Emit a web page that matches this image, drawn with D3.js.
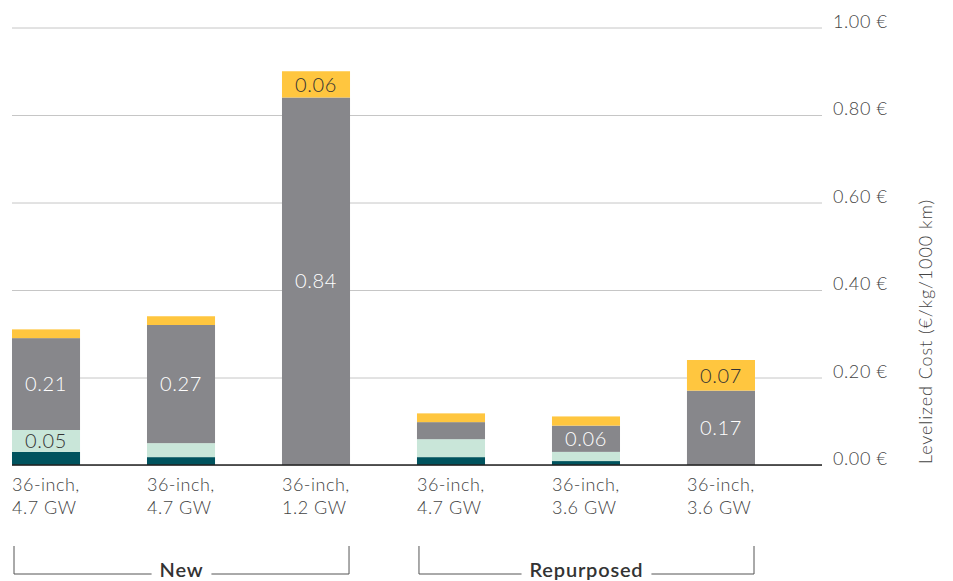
<!DOCTYPE html>
<html>
<head>
<meta charset="utf-8">
<script src="https://cdn.jsdelivr.net/npm/d3@7"></script>
<style>
  html, body { margin: 0; padding: 0; background: #fff; }
  svg { display: block; font-family: Lato, "Open Sans", sans-serif; }
</style>
</head>
<body>
<svg id="chart" width="953" height="581"></svg>
<script>
// ---- data ----
const categories = ["36-inch,|4.7 GW", "36-inch,|4.7 GW", "36-inch,|1.2 GW", "36-inch,|4.7 GW", "36-inch,|3.6 GW", "36-inch,|3.6 GW"];
const seriesNames = ["s1", "s2", "s3", "s4"];
const s1Values = [0.030, 0.018, 0.000, 0.018, 0.009, 0.000];
const s2Values = [0.050, 0.032, 0.000, 0.041, 0.021, 0.000];
const s3Values = [0.210, 0.270, 0.840, 0.039, 0.060, 0.170];
const s4Values = [0.020, 0.020, 0.060, 0.020, 0.021, 0.070];
const s1Labels = [null, null, null, null, null, null];
const s2Labels = ["0.05", null, null, null, null, null];
const s3Labels = ["0.21", "0.27", "0.84", null, "0.06", "0.17"];
const s4Labels = [null, null, "0.06", null, null, "0.07"];
const yTicks = [0, 0.2, 0.4, 0.6, 0.8, 1.0];
const groups = [
  { name: "New", first: 0, last: 2 },
  { name: "Repurposed", first: 3, last: 5 }
];
const yTitle = "Levelized Cost (€/kg/1000 km)";

const colors = { s1: "#00535e", s2: "#c9e6d9", s3: "#87878b", s4: "#ffc63f" };
const labelColors = { s1: "#fff", s2: "#333", s3: "#fff", s4: "#333" };

// ---- build ----
const valuesBy = { s1: s1Values, s2: s2Values, s3: s3Values, s4: s4Values };
const labelsBy = { s1: s1Labels, s2: s2Labels, s3: s3Labels, s4: s4Labels };
const table = categories.map((c, i) => {
  const row = { idx: i, cat: c };
  seriesNames.forEach(s => row[s] = valuesBy[s][i]);
  return row;
});
const stacked = d3.stack().keys(seriesNames)(table);

const svg = d3.select("#chart");
const x = d3.scaleBand().domain(d3.range(categories.length)).range([12, 755]).paddingInner(0.496).paddingOuter(0);
const y = d3.scaleLinear().domain([0, 1]).range([465, 27.5]);

// grid + axis
const axis = d3.axisRight(y).tickValues(yTicks)
  .tickSize(-(822 - 12)).tickPadding(11)
  .tickFormat(d => d3.format(".2f")(d) + " €");
const ag = svg.append("g").attr("transform", "translate(822,0)").call(axis);
ag.select(".domain").remove();
ag.selectAll(".tick line").attr("stroke", "#c6c6c6").attr("stroke-width", 1);
ag.selectAll(".tick text").attr("fill", "#444").attr("dy", "-0.02em")
  .style("font-size", "18px").style("font-weight", 300)
  .style("letter-spacing", "0.6px")
  .style("font-family", "Lato, sans-serif");

// bars
const layers = svg.append("g").selectAll("g").data(stacked).join("g")
  .attr("fill", d => colors[d.key]);
layers.selectAll("rect").data(d => d.map(v => ({ key: d.key, v })))
  .join("rect")
  .attr("x", d => x(d.v.data.idx))
  .attr("width", x.bandwidth())
  .attr("y", d => y(d.v[1]))
  .attr("height", d => Math.max(0, y(d.v[0]) - y(d.v[1])));

// labels
const labelG = svg.append("g");
stacked.forEach(layer => {
  layer.forEach((v, i) => {
    const lab = labelsBy[layer.key][i];
    if (!lab) return;
    labelG.append("text")
      .attr("x", x(i) + x.bandwidth() / 2)
      .attr("y", (y(v[0]) + y(v[1])) / 2)
      .attr("dy", "0.36em")
      .attr("text-anchor", "middle")
      .attr("fill", labelColors[layer.key])
      .style("font-size", "20px")
      .style("font-weight", 300)
      .style("letter-spacing", "0.6px")
      .text(lab);
  });
});

// baseline
svg.append("line").attr("x1", 12).attr("x2", 822).attr("y1", y(0)).attr("y2", y(0))
  .attr("stroke", "#222").attr("stroke-width", 1.5);

// category labels
const catG = svg.append("g");
categories.forEach((c, i) => {
  const t = catG.append("text").attr("x", x(i)).attr("y", 491)
    .attr("fill", "#444").style("font-size", "18px").style("font-weight", 300)
    .style("letter-spacing", "0.5px");
  c.split("|").forEach((line, k) => {
    t.append("tspan").attr("x", x(i)).attr("dy", k === 0 ? 0 : 23).text(line);
  });
});

// y title
svg.append("text")
  .attr("transform", `translate(932,${(y(0) + 198) / 2}) rotate(-90)`)
  .attr("text-anchor", "middle")
  .attr("fill", "#444").style("font-size", "18px").style("font-weight", 300)
  .style("letter-spacing", "0.9px")
  .text(yTitle);

// group brackets
const bg = svg.append("g");
groups.forEach(g => {
  const x0 = x(g.first) + 2;
  const x1 = x(g.last) + x.bandwidth() - 1;
  const yTop = 546, yBot = 574;
  const cx = (x0 + x1) / 2;
  const txt = bg.append("text").attr("x", cx).attr("y", 577)
    .attr("text-anchor", "middle").attr("fill", "#333")
    .style("font-size", "20px").style("font-weight", 600)
    .style("letter-spacing", "0.8px").text(g.name);
  const w = txt.node().getComputedTextLength();
  const gap = 8;
  const path = d3.path();
  path.moveTo(x0, yTop); path.lineTo(x0, yBot); path.lineTo(cx - w / 2 - gap, yBot);
  path.moveTo(cx + w / 2 + gap, yBot); path.lineTo(x1, yBot); path.lineTo(x1, yTop);
  bg.append("path").attr("d", path.toString()).attr("fill", "none")
    .attr("stroke", "#555").attr("stroke-width", 1);
});
</script>
</body>
</html>
